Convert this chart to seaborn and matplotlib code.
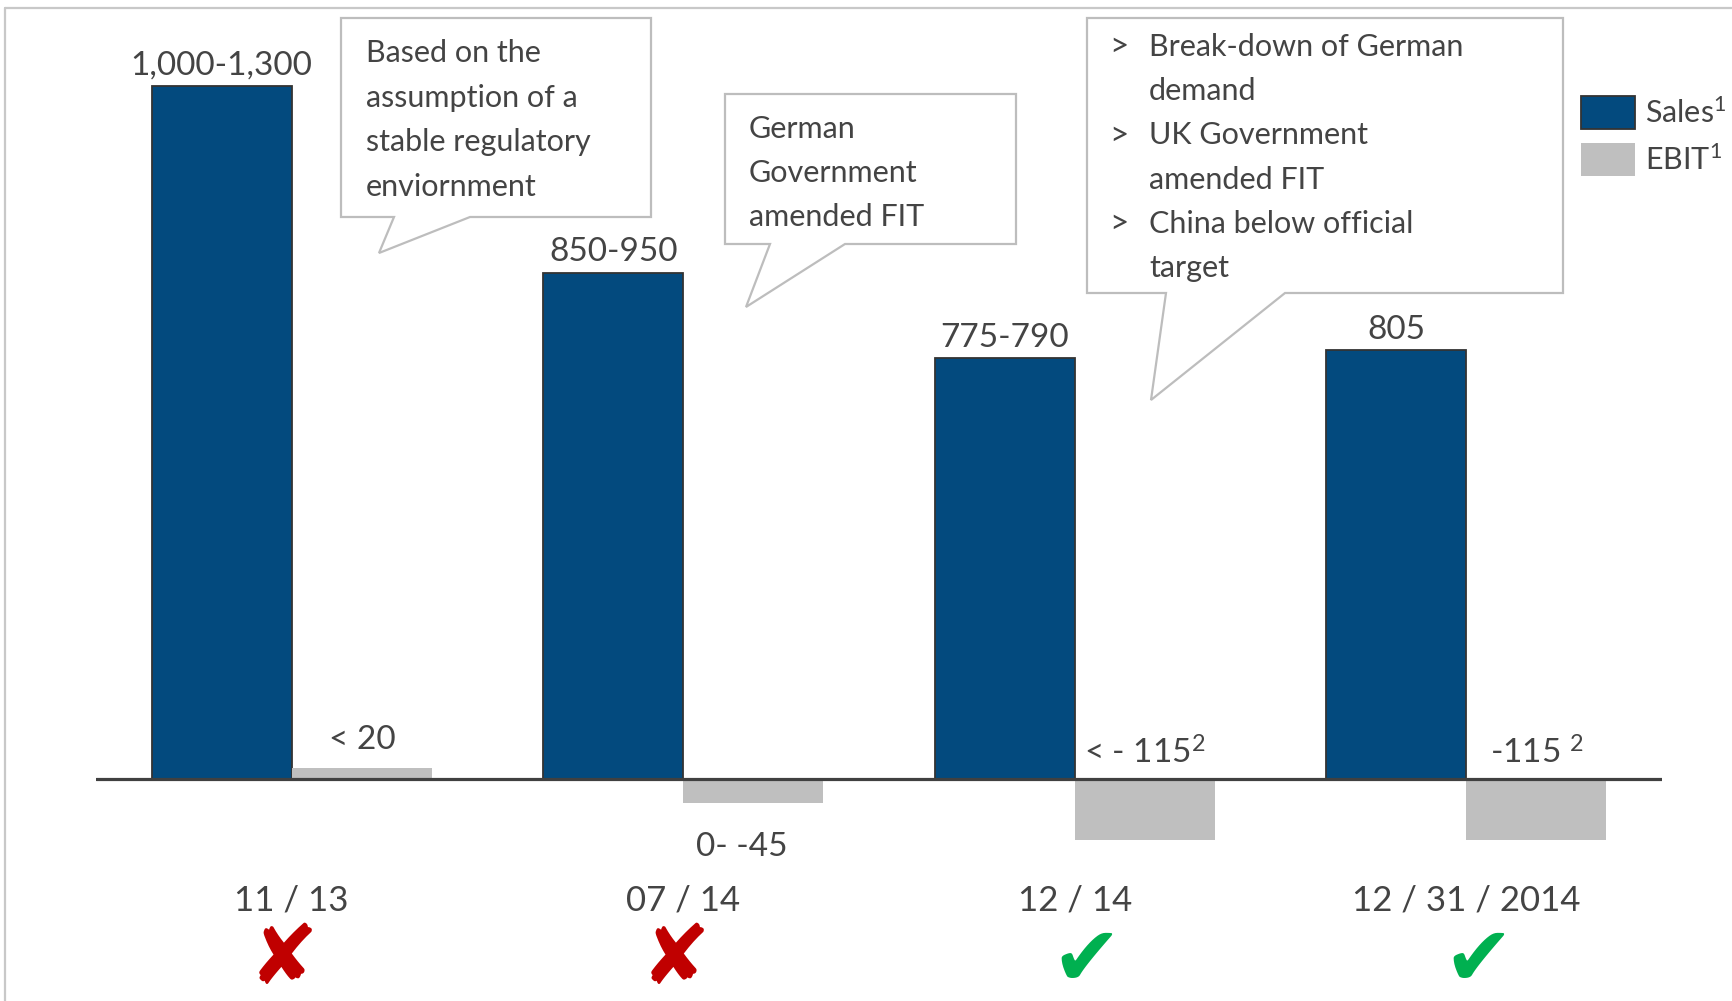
import matplotlib
matplotlib.use("Agg")
import matplotlib.pyplot as plt
import matplotlib.patches as mpatches
from matplotlib.lines import Line2D
import seaborn as sns
import pandas as pd

# ---------------- data ----------------
periods = ["11 / 13", "07 / 14", "12 / 14", "12 / 31 / 2014"]
sales = [1300, 950, 790, 805]            # upper end of guidance range (EUR m)
ebit = [20, -45, -115, -115]
sales_labels = ["1,000-1,300", "850-950", "775-790", "805"]
ebit_labels = ["< 20", "0- -45", r"< - 115$^{\mathrm{2}}$", r"-115 $^{\mathrm{2}}$"]
ebit_label_above = [True, False, True, True]
achieved = [False, False, True, True]
series_names = ["Sales", "EBIT"]
legend_labels = [r"Sales$^{\mathrm{1}}$", r"EBIT$^{\mathrm{1}}$"]
callout_1 = ["Based on the", "assumption of a", "stable regulatory", "enviornment"]
callout_2 = ["German", "Government", "amended FIT"]
callout_3 = [("> ", "Break-down of German"), ("", "demand"),
             ("> ", "UK Government"), ("", "amended FIT"),
             ("> ", "China below official"), ("", "target")]

# ---------------- style ----------------
BLUE = "#034A7E"
GRAY = "#BFBFBF"
TXT = "#444444"
EDGE = "#333333"
BOX = "#BDBDBD"
FONT = ["Lato", "DejaVu Sans"]

sns.set_theme(style="white")
plt.rcParams["font.family"] = FONT
plt.rcParams["mathtext.fontset"] = "custom"
plt.rcParams["mathtext.rm"] = "Lato"
plt.rcParams["mathtext.it"] = "Lato:italic"
plt.rcParams["mathtext.bf"] = "Lato:bold"

W, H = 1732, 1001
fig = plt.figure(figsize=(W / 100, H / 100), dpi=100)

# axes geometry (pixels)
AX_L, AX_R = 96, 1662
ZERO_PX = 779
PX_PER_UNIT = 693 / 1300
ax = fig.add_axes([AX_L / W, 0, (AX_R - AX_L) / W, 1])

df = pd.DataFrame({
    "period": periods * 2,
    "series": [series_names[0]] * len(periods) + [series_names[1]] * len(periods),
    "value": sales + ebit,
})
sns.barplot(data=df, x="period", y="value", hue="series", hue_order=series_names,
            order=periods, palette=[BLUE, GRAY], width=0.716, errorbar=None,
            saturation=1, legend=False, ax=ax, linewidth=0)

ax.set_xlim(-0.5, len(periods) - 0.5)
ax.set_ylim(-(H - ZERO_PX) / PX_PER_UNIT, ZERO_PX / PX_PER_UNIT)
ax.axis("off")

sales_bars = ax.containers[0]
ebit_bars = ax.containers[1]
for p in sales_bars:
    p.set_edgecolor(EDGE)
    p.set_linewidth(1.3)

ax.axhline(0, color="#404040", lw=2.3, zorder=5)

# value labels
for p, lab in zip(sales_bars, sales_labels):
    cx = p.get_x() + p.get_width() / 2
    ax.annotate(lab, (cx, p.get_height()), xytext=(0, 8), textcoords="offset points",
                ha="center", va="baseline", fontsize=24, color=TXT)
for p, v, lab, above in zip(ebit_bars, ebit, ebit_labels, ebit_label_above):
    cx = p.get_x() + p.get_width() / 2
    if above:
        y = max(v, 0)
        off = 14 if v > 0 else 11
    else:
        y = v
        off = -38
    ax.annotate(lab, (cx - (0.03 if not above else 0), y), xytext=(0, off),
                textcoords="offset points", ha="center", va="baseline",
                fontsize=24, color=TXT)

# category labels and status marks
xt = ax.get_xaxis_transform()
for i, (per, ok) in enumerate(zip(periods, achieved)):
    ax.text(i, 1 - 911 / H, per, transform=xt, ha="center", va="baseline",
            fontsize=25, color=TXT)
    ax.text(i + (0.03 if ok else -0.02), 1 - 961 / H, "\u2714" if ok else "\u2718",
            transform=xt, ha="center", va="center", fontsize=60,
            family=["DejaVu Sans"], fontweight="normal",
            color="#00B050" if ok else "#C00000")

# ---------------- callouts (figure pixel coords) ----------------
def fx(x):
    return x / W


def fy(y):
    return 1 - y / H


def callout(left, top, right, bottom, b1, b2, tip):
    pts = [(left, top), (right, top), (right, bottom), (b2, bottom), tip,
           (b1, bottom), (left, bottom)]
    poly = mpatches.Polygon([(fx(x), fy(y)) for x, y in pts], closed=True,
                            transform=fig.transFigure, facecolor="white",
                            edgecolor=BOX, lw=1.6, zorder=10)
    fig.add_artist(poly)


callout(341, 18, 651, 217, 394, 470, (379, 253))
callout(725, 94, 1016, 244, 770, 845, (746, 307))
callout(1087, 18, 1563, 293, 1166, 1285, (1151, 400))

CFS = 22
LINE = 44.5
for k, s in enumerate(callout_1):
    fig.text(fx(366), fy(62 + k * LINE), s, ha="left", va="baseline",
             fontsize=CFS, color=TXT, zorder=11)
for k, s in enumerate(callout_2):
    fig.text(fx(749), fy(138 + k * 44), s, ha="left", va="baseline",
             fontsize=CFS, color=TXT, zorder=11)
for k, (b, s) in enumerate(callout_3):
    yy = fy(56 + k * 44.2)
    if b:
        fig.text(fx(1109), yy, ">", ha="left", va="baseline", fontsize=CFS + 2,
                 color=TXT, zorder=11)
    fig.text(fx(1149), yy, s, ha="left", va="baseline", fontsize=CFS,
             color=TXT, zorder=11)

# ---------------- legend ----------------
handles = [mpatches.Patch(facecolor=BLUE, edgecolor=EDGE, lw=1.3),
           mpatches.Patch(facecolor=GRAY, edgecolor=GRAY, lw=0)]
fig.legend(handles, legend_labels, loc="upper left",
           bbox_to_anchor=(fx(1581), fy(96)), bbox_transform=fig.transFigure,
           frameon=False, handlelength=1.76, handleheight=1.3,
           handletextpad=0.35, labelspacing=0.45, borderpad=0, borderaxespad=0,
           labelcolor=TXT, prop={"size": 22})

# ---------------- outer frame ----------------
fig.add_artist(Line2D([fx(5), 1], [fy(8), fy(8)], transform=fig.transFigure,
                      color="#C8C8C8", lw=1.6))
fig.add_artist(Line2D([fx(5), fx(5)], [fy(8), 0], transform=fig.transFigure,
                      color="#C8C8C8", lw=1.6))

fig.savefig("out.png", dpi=100)
